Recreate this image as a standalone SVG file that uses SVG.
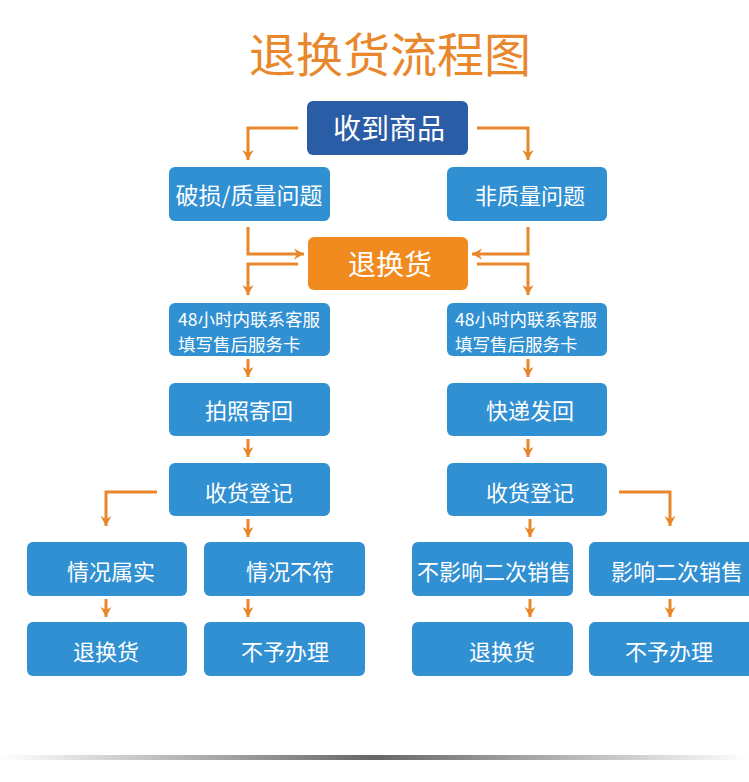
<svg xmlns="http://www.w3.org/2000/svg" width="749" height="782" viewBox="0 0 749 782">
<defs>
<style>
.b{fill:#3190D2}
.d{fill:#2A5DA5}
.o{fill:#F18B1F}
.t{font-family:"Noto Sans CJK SC","Noto Sans",sans-serif;fill:#fff;text-anchor:middle;dominant-baseline:central;font-size:22px}
.big{font-size:28px}
.s{font-family:"Noto Sans CJK SC","Noto Sans",sans-serif;fill:#fff;font-size:17.5px;dominant-baseline:central}
.c{fill:none;stroke:#E8872B;stroke-width:3;marker-end:url(#ah)}
</style>
<marker id="ah" markerUnits="userSpaceOnUse" markerWidth="12" markerHeight="12" refX="10" refY="6" orient="auto" viewBox="0 0 12 12">
<path d="M0,0.5 L10,6 L0,11.5 L3,6 z" fill="#E8872B"/>
</marker>
<linearGradient id="gl" x1="0" y1="0" x2="1" y2="0">
<stop offset="0" stop-color="#fff"/>
<stop offset="0.5" stop-color="#666"/>
<stop offset="1" stop-color="#fff"/>
</linearGradient>
</defs>
<rect width="749" height="782" fill="#fff"/>
<text x="390" y="51" font-family="'Noto Sans CJK SC','Noto Sans',sans-serif" font-size="47" fill="#E8872B" text-anchor="middle" dominant-baseline="central">退换货流程图</text>

<g id="connectors">
<path class="c" d="M298,128 H248 V160"/>
<path class="c" d="M477,128 H528 V160"/>
<path class="c" d="M248,227 V254 H304"/>
<path class="c" d="M298,264 H248 V295"/>
<path class="c" d="M528,227 V254 H472"/>
<path class="c" d="M477,264 H528 V295"/>
<path class="c" d="M248,359 V377"/>
<path class="c" d="M528,359 V377"/>
<path class="c" d="M248,439 V457"/>
<path class="c" d="M528,439 V457"/>
<path class="c" d="M157,492 H106 V526"/>
<path class="c" d="M248,519 V537"/>
<path class="c" d="M530,519 V537"/>
<path class="c" d="M619,492 H670 V526"/>
<path class="c" d="M106,599 V617"/>
<path class="c" d="M248,599 V617"/>
<path class="c" d="M530,599 V617"/>
<path class="c" d="M670,599 V617"/>
</g>

<g id="n1"><rect class="d" x="307" y="101" width="161" height="54" rx="6"/><text class="t big" x="389" y="127">收到商品</text></g>
<g id="n2"><rect class="b" x="169" y="167" width="161" height="54" rx="6"/><text class="t" x="249" y="194" style="font-size:23px">破损/质量问题</text></g>
<g id="n3"><rect class="b" x="447" y="167" width="160" height="54" rx="6"/><text class="t" x="530" y="194">非质量问题</text></g>
<g id="n4"><rect class="o" x="308" y="237" width="160" height="53" rx="6"/><text class="t big" x="390" y="263">退换货</text></g>
<g id="n5"><rect class="b" x="169" y="303" width="161" height="53" rx="6"/><text class="s" x="178" y="318">48小时内联系客服</text><text class="s" x="178" y="343">填写售后服务卡</text></g>
<g id="n6"><rect class="b" x="447" y="303" width="160" height="53" rx="6"/><text class="s" x="455" y="318">48小时内联系客服</text><text class="s" x="455" y="343">填写售后服务卡</text></g>
<g id="n7"><rect class="b" x="169" y="383" width="161" height="53" rx="6"/><text class="t" x="249" y="409">拍照寄回</text></g>
<g id="n8"><rect class="b" x="447" y="383" width="160" height="53" rx="6"/><text class="t" x="530" y="409">快递发回</text></g>
<g id="n9"><rect class="b" x="169" y="463" width="161" height="53" rx="6"/><text class="t" x="249" y="491">收货登记</text></g>
<g id="n10"><rect class="b" x="447" y="463" width="160" height="53" rx="6"/><text class="t" x="530" y="491">收货登记</text></g>
<g id="n11"><rect class="b" x="27" y="542" width="160" height="54" rx="6"/><text class="t" x="111" y="570">情况属实</text></g>
<g id="n12"><rect class="b" x="204" y="542" width="161" height="54" rx="6"/><text class="t" x="290" y="570">情况不符</text></g>
<g id="n13"><rect class="b" x="412" y="542" width="161" height="54" rx="6"/><text class="t" x="494" y="570">不影响二次销售</text></g>
<g id="n14"><rect class="b" x="589" y="542" width="166" height="54" rx="6"/><text class="t" x="677" y="570">影响二次销售</text></g>
<g id="n15"><rect class="b" x="27" y="622" width="160" height="54" rx="6"/><text class="t" x="106" y="650">退换货</text></g>
<g id="n16"><rect class="b" x="204" y="622" width="161" height="54" rx="6"/><text class="t" x="285" y="650">不予办理</text></g>
<g id="n17"><rect class="b" x="412" y="622" width="161" height="54" rx="6"/><text class="t" x="502" y="650">退换货</text></g>
<g id="n18"><rect class="b" x="589" y="622" width="166" height="54" rx="6"/><text class="t" x="669" y="650">不予办理</text></g>

<rect x="0" y="755" width="749" height="5" fill="url(#gl)"/>
</svg>
